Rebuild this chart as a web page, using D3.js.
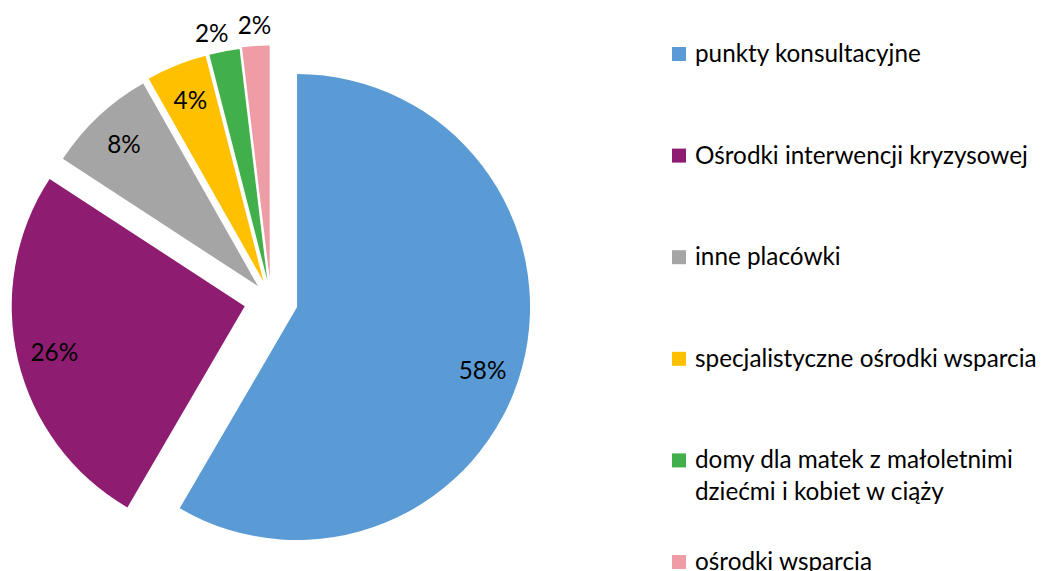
<!DOCTYPE html>
<html>
<head>
<meta charset="utf-8">
<script src="https://cdnjs.cloudflare.com/ajax/libs/d3/7.8.5/d3.min.js"></script>
<style>
  body { margin: 0; background: #fff; }
  text { font-family: Lato, "Open Sans", sans-serif; fill: #000; }
</style>
</head>
<body>
<svg id="chart"></svg>
<script>
let categories = [
  "punkty konsultacyjne",
  "Ośrodki interwencji kryzysowej",
  "inne placówki",
  "specjalistyczne ośrodki wsparcia",
  "domy dla matek z małoletnimi\ndziećmi i kobiet w ciąży",
  "ośrodki wsparcia"
]
let shares = [58.4, 25.8, 7.6, 4.2, 2.1, 1.9]
let percentLabels = ["58%", "26%", "8%", "4%", "2%", "2%"]
let outsideLabel = [false, false, false, false, true, true]

let colors = ["#5b9bd5", "#8e1c70", "#a5a5a5", "#ffc000", "#42b04a", "#ee9ca6"]
let explode = [27, 27, 19, 20, 20, 21.5]   // per-slice pull-out, px

let width = 1043, height = 571
let cx = 271, cy = 300, radius = 233
let fontSize = 24.3

let svg = d3.select("#chart")
            .attr("width", width)
            .attr("height", height)

let pie = d3.pie().sort(null).value(d => d)
let arcs = pie(shares)
let arc = d3.arc().innerRadius(0).outerRadius(radius)

// direction of a slice's middle, d3 angle convention (0 = up, clockwise)
let dir = (a) => [Math.sin(a), -Math.cos(a)]
let labelPos = (d, i) => {
    let a = (d.startAngle + d.endAngle) / 2
    if (i == 0) a += 0.06          // excel nudges the big label a bit lower
    if (i == 4) a -= 0.035
    let m = dir(a)
    let r = outsideLabel[i] ? radius + 21 : radius * 0.84
    return [m[0] * r, m[1] * r]
}

let slices = svg.append("g")
                .attr("transform", `translate(${cx},${cy})`)
                .selectAll("g")
                .data(arcs)
                .enter()
                .append("g")
                .attr("transform", (d, i) => {
                    let m = dir((d.startAngle + d.endAngle) / 2)
                    return `translate(${m[0] * explode[i]},${m[1] * explode[i]})`
                })

slices.append("path")
      .attr("d", arc)
      .attr("fill", (d, i) => colors[i])

slices.append("text")
      .attr("text-anchor", "middle")
      .attr("dominant-baseline", "central")
      .style("font-size", fontSize + "px")
      .attr("x", (d, i) => labelPos(d, i)[0])
      .attr("y", (d, i) => labelPos(d, i)[1])
      .text((d, i) => percentLabels[i])

// legend
let legendY = d3.scalePoint()
                .domain(categories)
                .range([54, 562])

let legend = svg.append("g")
                .selectAll("g")
                .data(categories)
                .enter()
                .append("g")
                .attr("transform", d => `translate(672,${legendY(d)})`)

legend.append("rect")
      .attr("x", 0)
      .attr("y", -7)
      .attr("width", 14)
      .attr("height", 14)
      .attr("fill", (d, i) => colors[i])

legend.append("text")
      .style("font-size", fontSize + "px")
      .selectAll("tspan")
      .data(d => d.split("\n"))
      .enter()
      .append("tspan")
      .attr("x", 23)
      .attr("y", (d, i) => 8 + i * 32)
      .text(d => d)
</script>
</body>
</html>
